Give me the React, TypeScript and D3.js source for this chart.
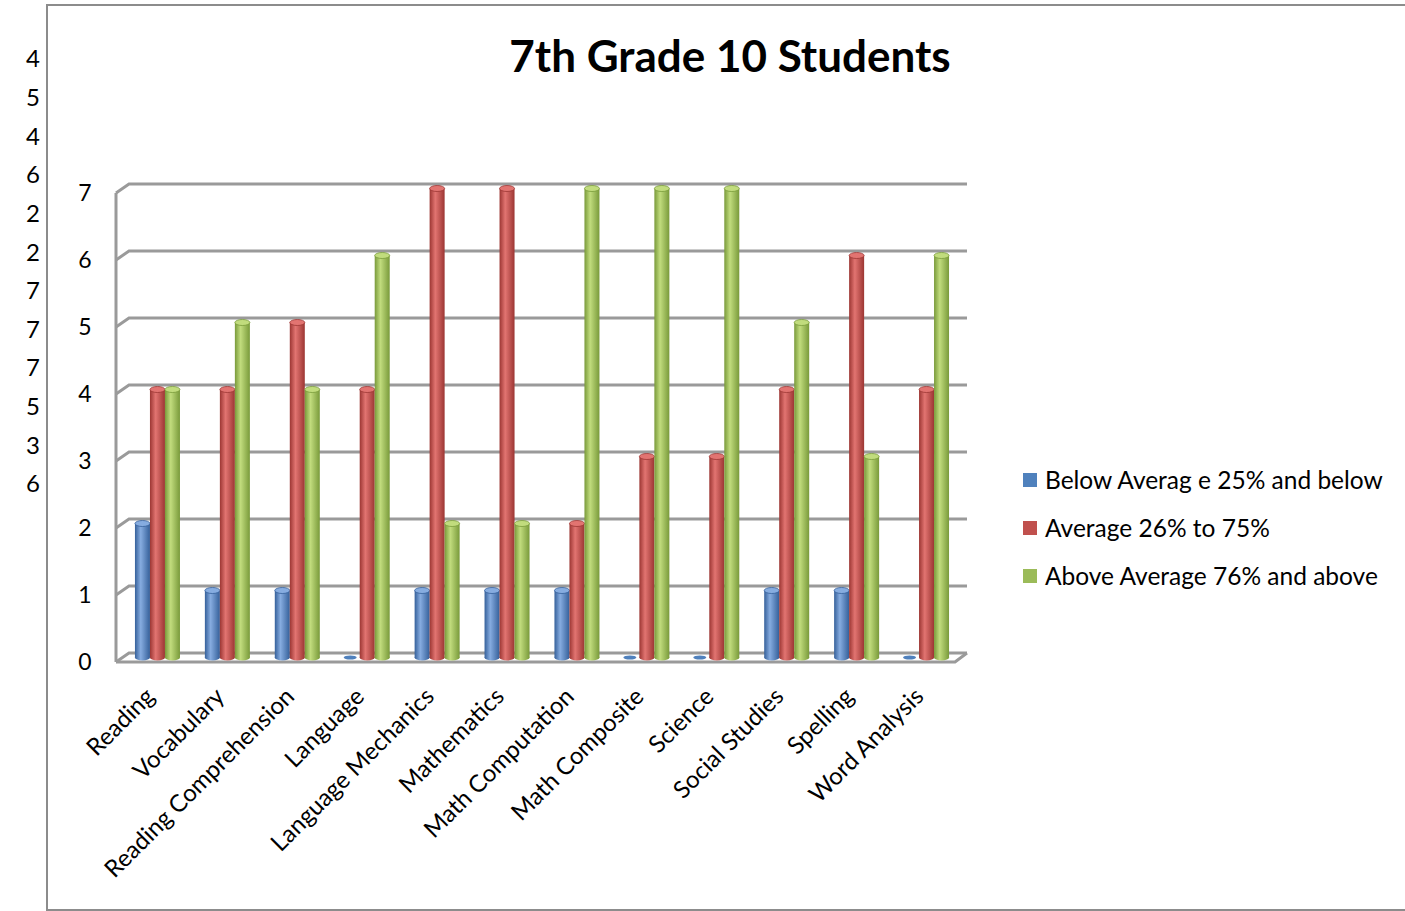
import * as d3 from "d3";

const TITLE = "7th Grade 10 Students";
const CATEGORIES = [
  "Reading",
  "Vocabulary",
  "Reading Comprehension",
  "Language",
  "Language Mechanics",
  "Mathematics",
  "Math Computation",
  "Math Composite",
  "Science",
  "Social Studies",
  "Spelling",
  "Word Analysis",
];
const SERIES = [
  "Below Averag e 25% and below",
  "Average 26% to 75%",
  "Above Average 76% and above",
];
const BELOW = [2, 1, 1, 0, 1, 1, 1, 0, 0, 1, 1, 0];
const AVERAGE = [4, 4, 5, 4, 7, 7, 2, 3, 3, 4, 6, 4];
const ABOVE = [4, 5, 4, 6, 2, 2, 7, 7, 7, 5, 3, 6];
const Y_TICKS = [0, 1, 2, 3, 4, 5, 6, 7];
// stray numbers typed down the left margin of the original sheet
const STRAY = [4, 5, 4, 6, 2, 2, 7, 7, 7, 5, 3, 6];

const COLORS = [
  { base: "#4F81BD", dark: "#35609a", light: "#86ace0" },
  { base: "#C0504D", dark: "#9c3633", light: "#e27471" },
  { base: "#9BBB59", dark: "#799a3a", light: "#c1dc7d" },
];

const FONT = "Lato, 'Open Sans', sans-serif";
const W = 1405;
const H = 911;
const DX = 13; // depth offset of the back wall
const DY = 9;

const y = d3.scaleLinear().domain([0, 7]).range([653, 184]);
const x0 = d3.scaleBand<string>().domain(CATEGORIES).range([116, 955]);
const BAR_W = 15;

export default function App() {
  const values = [BELOW, AVERAGE, ABOVE];
  const left = x0.range()[0];
  const right = x0.range()[1];
  const stray = d3.scalePoint<number>().domain(d3.range(STRAY.length)).range([59, 484]);

  return (
    <>
      <style>{"body{margin:0;overflow:hidden}"}</style>
      <svg width={W} height={H} style={{ display: "block" }} fontFamily={FONT}>
        <defs>
          {COLORS.map((c, i) => (
            <linearGradient key={i} id={`cyl${i}`} x1="0" x2="1" y1="0" y2="0">
              <stop offset="0%" stopColor={c.dark} />
              <stop offset="38%" stopColor={c.light} />
              <stop offset="100%" stopColor={c.dark} />
            </linearGradient>
          ))}
        </defs>
        <rect x={47} y={5} width={W} height={905} fill="white" stroke="#8c8c8c" strokeWidth={2} />

        {STRAY.map((v, i) => (
          <text key={i} x={33} y={stray(i)} dy="0.35em" textAnchor="middle" fontSize={24} fill="#000">
            {v}
          </text>
        ))}

        <text x={730} y={57} dy="0.35em" textAnchor="middle" fontSize={44} fontWeight="bold" fill="#000">
          {TITLE}
        </text>

        {/* back wall gridlines */}
        {Y_TICKS.map((t) => {
          const yb = y(t);
          return (
            <g key={t}>
              <path
                d={`M${left},${yb + DY} L${left + DX},${yb} L${right + DX - 1},${yb}`}
                fill="none"
                stroke="#9a9a9a"
                strokeWidth={3}
              />
              <text x={85} y={yb + DY} dy="0.35em" textAnchor="middle" fontSize={23} fill="#000">
                {t}
              </text>
            </g>
          );
        })}
        {/* left wall edge */}
        <line x1={left} x2={left} y1={y(7) + DY} y2={y(0) + DY} stroke="#9a9a9a" strokeWidth={3} />
        {/* floor front edge */}
        <path
          d={`M${left},${y(0) + DY} L${right},${y(0) + DY} L${right + DX - 1},${y(0)}`}
          fill="none"
          stroke="#9a9a9a"
          strokeWidth={3}
        />

        {/* cylinders */}
        {CATEGORIES.map((cat, ci) => {
          const cx = (x0(cat) ?? 0) + x0.bandwidth() / 2 + DX / 2;
          return (
            <g key={cat}>
              {values.map((vals, si) => {
                const bx = cx - (3 * BAR_W) / 2 + si * BAR_W;
                const top = y(vals[ci]) + DY / 2;
                const bottom = y(0) + DY / 2;
                const c = COLORS[si];
                if (vals[ci] === 0) {
                  return (
                    <ellipse
                      key={si}
                      cx={bx + BAR_W / 2 - 2}
                      cy={bottom}
                      rx={BAR_W / 2 - 1}
                      ry={2}
                      fill={c.base}
                    />
                  );
                }
                return (
                  <g key={si}>
                    <rect x={bx} y={top} width={BAR_W} height={bottom - top} fill={`url(#cyl${si})`} />
                    <ellipse cx={bx + BAR_W / 2} cy={bottom} rx={BAR_W / 2} ry={3} fill={`url(#cyl${si})`} />
                    <ellipse cx={bx + BAR_W / 2} cy={top} rx={BAR_W / 2} ry={3} fill={c.light} stroke={c.dark} strokeWidth={0.8} />
                  </g>
                );
              })}
            </g>
          );
        })}

        {/* category labels */}
        {CATEGORIES.map((cat) => {
          const cx = (x0(cat) ?? 0) + x0.bandwidth() / 2 - 1;
          return (
            <text
              key={cat}
              transform={`translate(${cx},${692}) rotate(-45)`}
              textAnchor="end"
              dy="0.35em"
              fontSize={24}
              fill="#000"
            >
              {cat}
            </text>
          );
        })}

        {/* legend */}
        {SERIES.map((s, i) => (
          <g key={s} transform={`translate(1023,${480 + i * 48})`}>
            <rect x={0} y={-7} width={14} height={14} fill={COLORS[i].base} />
            <text x={22} y={0} dy="0.35em" fontSize={24.5} fill="#000">
              {s}
            </text>
          </g>
        ))}
      </svg>
    </>
  );
}
